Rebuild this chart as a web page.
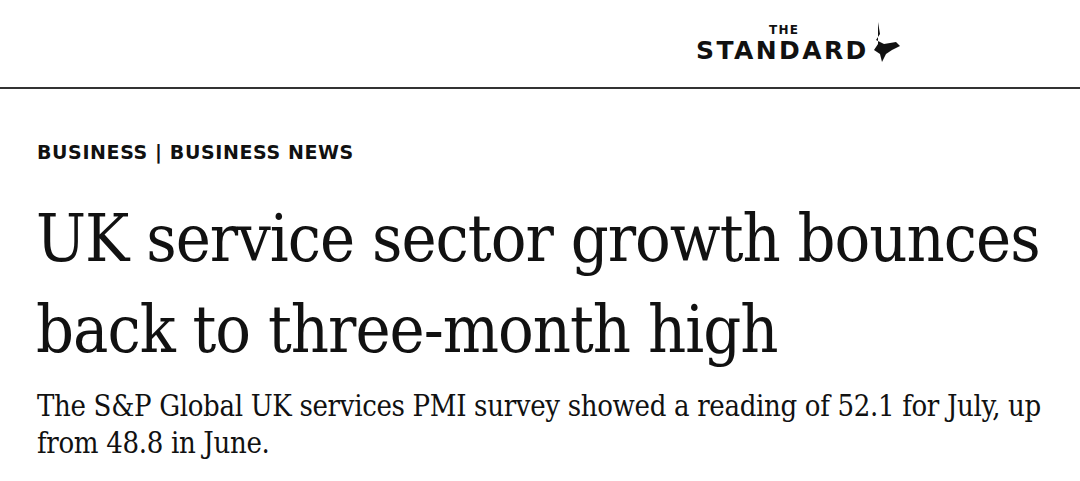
<!DOCTYPE html>
<html>
<head>
<meta charset="utf-8">
<script src="https://cdn.jsdelivr.net/npm/chart.js@4"></script>
<style>
  html, body { margin: 0; padding: 0; background: #fff; }
  body { width: 1080px; height: 481px; position: relative; overflow: hidden; color: #111; }
  .logo-the { position: absolute; left: 769px; top: 23px; font: 700 12px "DejaVu Sans"; letter-spacing: 1.3px; }
  .logo-main { position: absolute; left: 696px; top: 36px; font: 700 25px "DejaVu Sans"; letter-spacing: 2.4px; }
  .logo-bird { position: absolute; left: 870px; top: 20px; }
  .rule { position: absolute; left: 0; top: 87px; width: 1080px; height: 2px; background: #333; }
  .kicker { position: absolute; left: 37px; top: 141px; font: 700 19px "DejaVu Sans"; letter-spacing: 0.6px; }
  .headline { position: absolute; left: 36px; top: 193px; font: 400 66px "DejaVu Serif Condensed", "DejaVu Serif"; font-stretch: condensed; line-height: 91px; letter-spacing: -1px; white-space: nowrap; }
  .dek { position: absolute; left: 37px; top: 388px; font: 400 29px "DejaVu Serif Condensed", "DejaVu Serif"; font-stretch: condensed; line-height: 37px; letter-spacing: -0.33px; white-space: nowrap; }
</style>
</head>
<body>
<div class="logo-the">THE</div>
<div class="logo-main">STANDARD</div>
<svg class="logo-bird" width="34" height="44" viewBox="0 0 34 44">
  <path d="M8 2 L10 14 L6 20 L14 24 L26 22 L30 26 L22 30 L16 34 L12 42 L10 34 L4 30 L8 24 Z" fill="#111"/>
</svg>
<div class="rule"></div>
<div class="kicker">BUSINESS | BUSINESS NEWS</div>
<div class="headline" id="headline"></div>
<div class="dek" id="dek"></div>
<script>
// page text
const kicker = 'BUSINESS | BUSINESS NEWS';
const headlineLines = ['UK service sector growth bounces', 'back to three-month high'];
const dekLines = ['The S&P Global UK services PMI survey showed a reading of 52.1 for July, up', 'from 48.8 in June.'];

document.getElementById('headline').innerHTML = headlineLines.join('<br>');
document.getElementById('dek').innerHTML = dekLines.map(l => l.replace('&', '&amp;')).join('<br>');
</script>
</body>
</html>
